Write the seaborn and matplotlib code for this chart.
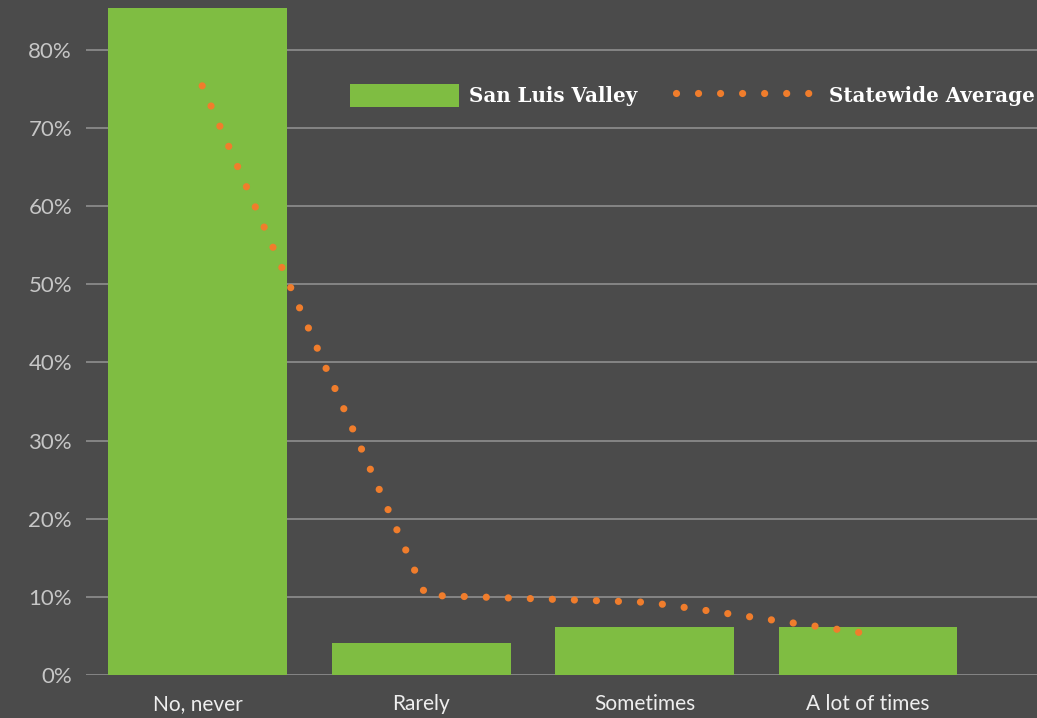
import numpy as np
import pandas as pd
import matplotlib
matplotlib.use("Agg")
import matplotlib.pyplot as plt
import seaborn as sns
from matplotlib.patches import Patch
from matplotlib.lines import Line2D

categories = ["No, never", "Rarely", "Sometimes", "A lot of times"]
san_luis_valley = [85.4, 4.1, 6.1, 6.1]
statewide_average = [75.4, 10.2, 9.3, 5.2]
y_ticks = [0, 10, 20, 30, 40, 50, 60, 70, 80]
y_tick_labels = [f"{v}%" for v in y_ticks]

BG = "#4b4b4b"
GREEN = "#7fbd42"
ORANGE = "#f07d2c"
GRID = "#959595"
DOTS = (0, (0.001, 3.05))

sns.set_theme(style="dark")
plt.rcParams["font.family"] = ["Lato", "DejaVu Sans"]

fig = plt.figure(figsize=(10.37, 7.18), dpi=100, facecolor=BG)
ax = fig.add_axes([86 / 1037, 43 / 718, 1 - 86 / 1037, 672 / 718])
ax.set_facecolor(BG)

df = pd.DataFrame({"category": categories, "value": san_luis_valley})
sns.barplot(data=df, x="category", y="value", order=categories, color=GREEN,
            saturation=1, width=0.8, ax=ax, zorder=3, edgecolor="none")

sns.lineplot(x=np.arange(len(categories)) + 0.02, y=statewide_average, ax=ax,
             color=ORANGE, lw=5.2, zorder=4,
             linestyle=DOTS, dash_capstyle="round")

ax.set_xlim(-0.5, 3.756)
ax.set_ylim(0, 86)
ax.set_yticks(y_ticks)
ax.set_yticklabels(y_tick_labels, color="#c6c6c6", fontsize=16, fontweight="normal")
ax.set_xticks(range(len(categories)))
ax.set_xticklabels(categories, color="#eeeeee", fontsize=15)
ax.tick_params(axis="x", length=0, pad=14)
ax.tick_params(axis="y", length=0, pad=10)
ax.set_xlabel("")
ax.set_ylabel("")
ax.grid(axis="y", color=GRID, lw=1.1, zorder=0)
ax.grid(axis="x", visible=False)
for s in ax.spines.values():
    s.set_visible(False)

legend_font = {"family": ["DejaVu Serif"], "size": 14.3, "weight": "bold"}
fs_px = 14.3 * 100 / 72

h1 = [Patch(facecolor=GREEN, edgecolor="none", label="San Luis Valley")]
leg1 = ax.legend(handles=h1, loc="center left", frameon=False,
                 bbox_to_anchor=(0.259, 0.863), bbox_transform=ax.transAxes,
                 prop=legend_font, handlelength=109 / fs_px,
                 handleheight=28 / fs_px, handletextpad=0.5)
for t in leg1.get_texts():
    t.set_color("#ffffff")
ax.add_artist(leg1)

h2 = [Line2D([0], [0], color=ORANGE, lw=5.2, linestyle=DOTS,
             dash_capstyle="round", label="Statewide Average")]
leg2 = ax.legend(handles=h2, loc="center left", frameon=False,
                 bbox_to_anchor=(0.602, 0.863), bbox_transform=ax.transAxes,
                 prop=legend_font, handlelength=146 / fs_px,
                 handleheight=28 / fs_px, handletextpad=0.35)
for t in leg2.get_texts():
    t.set_color("#ffffff")

fig.savefig("out.png", dpi=100, facecolor=BG)
